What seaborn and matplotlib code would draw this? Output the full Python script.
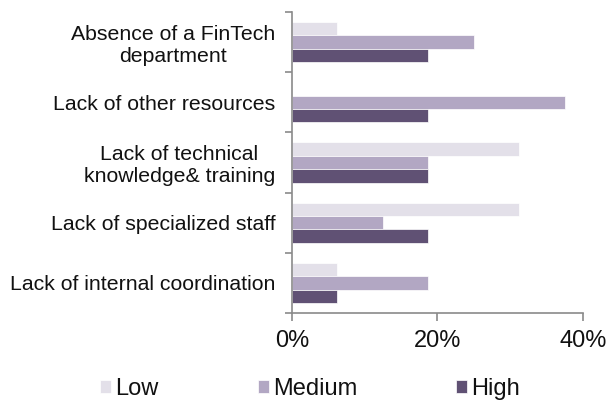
import matplotlib
matplotlib.use("Agg")
import matplotlib.pyplot as plt
import matplotlib.ticker as mticker
import seaborn as sns
import pandas as pd

categories = [
    "Absence of a FinTech\ndepartment",
    "Lack of other resources",
    "Lack of technical\nknowledge& training",
    "Lack of specialized staff",
    "Lack of internal coordination",
]
levels = ["Low", "Medium", "High"]
low = [6.25, 0.0, 31.25, 31.25, 6.25]
medium = [25.0, 37.5, 18.75, 12.5, 18.75]
high = [18.75, 18.75, 18.75, 18.75, 6.25]
palette = ["#E3DEEB", "#B1A2C8", "#5F4B7A"]

df = pd.DataFrame({
    "category": categories * 3,
    "level": [l for l in levels for _ in categories],
    "share": low + medium + high,
})

sns.set_theme(style="white")
plt.rcParams["font.family"] = ["Liberation Sans", "DejaVu Sans"]

fig = plt.figure(figsize=(6.08, 4.03), dpi=100)
ax = fig.add_axes([0.480, 0.2233, 0.479, 0.747])

sns.barplot(data=df, y="category", x="share", hue="level", order=categories,
            hue_order=levels, palette=palette, orient="h", width=0.67,
            edgecolor="white", linewidth=0.5, ax=ax, legend=True)

ax.set_xlim(0, 40)
ax.set_ylim(len(categories) - 0.5, -0.5)
ax.xaxis.set_major_locator(mticker.FixedLocator([0, 20, 40]))
ax.xaxis.set_major_formatter(mticker.FuncFormatter(lambda v, p: f"{v:.0f}%"))
ax.set_xlabel("")
ax.set_ylabel("")

spine_c = "#8a8a8a"
for s in ["top", "right"]:
    ax.spines[s].set_visible(False)
for s in ["left", "bottom"]:
    ax.spines[s].set_color(spine_c)
    ax.spines[s].set_linewidth(1.2)

ax.set_yticks([i - 0.5 for i in range(len(categories) + 1)], minor=True)
ax.tick_params(axis="y", which="major", length=0, pad=12, labelsize=15.3,
               labelcolor="#111111")
ax.tick_params(axis="y", which="minor", length=5, width=1.2, color=spine_c,
               left=True, direction="out")
ax.tick_params(axis="x", which="major", length=6, width=1.2, color=spine_c,
               bottom=True, direction="out", pad=6, labelsize=17,
               labelcolor="#111111")
for t in ax.get_yticklabels():
    t.set_multialignment("center")

handles, labels = ax.get_legend_handles_labels()
ax.get_legend().remove()
fig.legend(handles, labels, loc="center", bbox_to_anchor=(0.51, 1 - 389 / 403),
           ncol=3, frameon=False, fontsize=17, handlelength=0.47,
           handleheight=0.47, handletextpad=0.17, columnspacing=4.2,
           labelcolor="#111111")

fig.savefig("out.png", dpi=100)
